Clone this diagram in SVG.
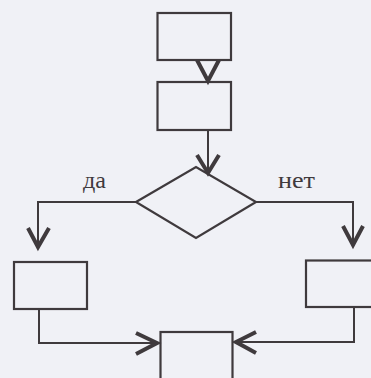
<svg xmlns="http://www.w3.org/2000/svg" width="371" height="378" viewBox="0 0 371 378">
  <style>
    .box { fill: none; stroke: #3f3a3d; stroke-width: 2.2; }
    .line { fill: none; stroke: #3f3a3d; stroke-width: 2; }
    .head { fill: none; stroke: #3f3a3d; stroke-width: 4; stroke-linejoin: miter; stroke-linecap: butt; }
    .label { font-family: "Liberation Serif", "Times New Roman", serif; font-size: 23px; fill: #3f3a3d; }
  </style>
  <rect width="371" height="378" fill="#f0f1f6"/>

  <g id="connectors">
    <!-- top box to second box -->
    <path class="head" d="M197,60 L208,81 L219,60"/>
    <!-- second box to decision -->
    <path class="line" d="M208,130 V170"/>
    <path class="head" d="M197,155 L208,173 L219,155"/>
    <!-- yes branch -->
    <path class="line" d="M136,202 H38 V246"/>
    <path class="head" d="M28,228 L38,247 L49,228"/>
    <!-- no branch -->
    <path class="line" d="M256,202 H353 V243"/>
    <path class="head" d="M343,226 L353,245 L363,226"/>
    <!-- left box to bottom box -->
    <path class="line" d="M39,309 V343 H157"/>
    <path class="head" d="M136,333 L157,343 L136,354"/>
    <!-- right box to bottom box -->
    <path class="line" d="M354,307 V342 H236"/>
    <path class="head" d="M256,332 L236,342 L256,353"/>
  </g>

  <g id="start">
    <rect class="box" x="157.5" y="13" width="73.5" height="47"/>
  </g>
  <g id="step">
    <rect class="box" x="157.5" y="82" width="73.5" height="48"/>
  </g>
  <g id="decision">
    <polygon class="box" points="136,202 196,167 256,202 196,238"/>
    <text class="label" x="83" y="188" textLength="23" lengthAdjust="spacingAndGlyphs">да</text>
    <text class="label" x="278" y="188" textLength="37" lengthAdjust="spacingAndGlyphs">нет</text>
  </g>
  <g id="yes-step">
    <rect class="box" x="14" y="262" width="73" height="47"/>
  </g>
  <g id="no-step">
    <rect class="box" x="306" y="260.5" width="70" height="46.5"/>
  </g>
  <g id="end">
    <rect class="box" x="160.5" y="332" width="72" height="50"/>
  </g>
</svg>
